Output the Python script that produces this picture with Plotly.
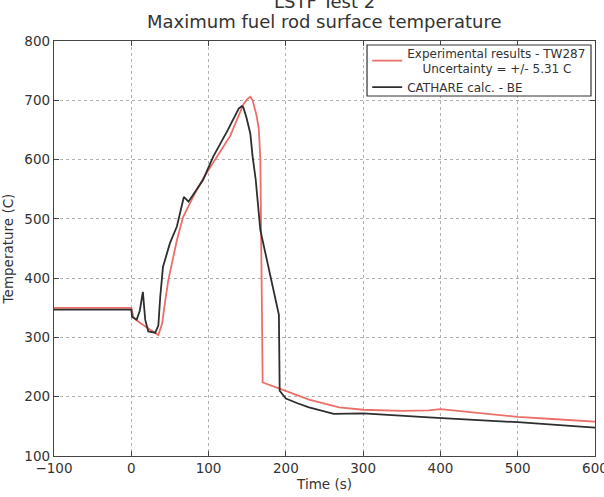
import plotly.graph_objects as go

# Experimental results (red)
exp_time = [-100, 0, 3, 12, 35, 40, 44, 48, 59, 67, 80, 93, 110, 128, 145, 150, 154,
            157, 162, 165, 167, 169, 170, 191, 230, 269, 300, 350, 385, 400, 450, 500, 550, 600]
exp_temp = [350, 350, 333, 324, 304, 324, 363, 397, 464, 503, 537, 568, 603, 640, 693, 702, 706,
            700, 675, 652, 600, 400, 224, 214, 195, 182, 178, 176, 177, 179, 172, 166, 162, 158]

# CATHARE calculation (black)
cat_time = [-100, 0, 1, 7, 11, 15, 18, 22, 31, 35, 37.5, 41, 50, 59, 68, 74, 93, 106, 125,
            139, 143, 145, 149, 154, 157, 161, 167, 178, 191, 192, 200, 215, 230, 262, 300,
            385, 400, 500, 600]
cat_temp = [347, 347, 335, 330, 345, 377, 330, 310, 308, 320, 369, 419, 459, 487, 537, 529, 566,
            605, 650, 686, 690, 688, 671, 644, 605, 566, 481, 414, 338, 210, 197, 189, 182, 171,
            172, 165, 164, 157, 148]

x_ticks = [-100, 0, 100, 200, 300, 400, 500, 600]
y_ticks = [100, 200, 300, 400, 500, 600, 700, 800]

exp_name = "Experimental results - TW287<br>\u00a0\u00a0\u00a0\u00a0Uncertainty = +/- 5.31 C"
cat_name = "CATHARE calc. - BE"

FONT = "DejaVu Sans"
TXT = "#333333"

fig = go.Figure()
fig.add_trace(go.Scatter(x=exp_time, y=exp_temp, mode="lines", name=exp_name,
                         line=dict(color="#eb6f68", width=1.8)))
fig.add_trace(go.Scatter(x=cat_time, y=cat_temp, mode="lines", name=cat_name,
                         line=dict(color="#2e2e2e", width=1.8)))

axis_common = dict(showline=True, linecolor="#444444", linewidth=1.3, mirror="ticks",
                   ticks="inside", ticklen=5, tickcolor="#444444",
                   showgrid=True, gridcolor="#b0b0b0", griddash="dot", gridwidth=1,
                   zeroline=False, tickfont=dict(family=FONT, size=13.5, color=TXT),
                   automargin=False, ticklabeloverflow="allow")

fig.update_xaxes(range=[-100, 600], tickvals=x_ticks,
                 title=dict(text="Time (s)", font=dict(family=FONT, size=13.5, color=TXT), standoff=3),
                 **axis_common)
fig.update_yaxes(range=[100, 800], tickvals=y_ticks,
                 title=dict(text="Temperature (C)", font=dict(family=FONT, size=13.5, color=TXT), standoff=8),
                 **axis_common)

fig.update_layout(
    width=604, height=497,
    margin=dict(l=54, r=9, t=41, b=41),
    paper_bgcolor="white", plot_bgcolor="white",
    font=dict(family=FONT, color=TXT),
    showlegend=True,
    legend=dict(x=0.993, y=1.006, xanchor="right", yanchor="top",
                bgcolor="rgba(0,0,0,0)", borderwidth=0,
                font=dict(family=FONT, size=12, color=TXT), tracegroupgap=0),
    shapes=[
        dict(type="rect", xref="paper", yref="paper", x0=0.5786, x1=0.9926,
             y0=0.8675, y1=0.9904, line=dict(color="#333333", width=1.2),
             fillcolor="white", layer="above"),
    ],
    annotations=[
        dict(text="LSTF Test 2", xref="paper", yref="paper", x=0.5, y=1.094,
             xanchor="center", yanchor="middle", showarrow=False,
             font=dict(family=FONT, size=18, color=TXT)),
        dict(text="Maximum fuel rod surface temperature", xref="paper", yref="paper",
             x=0.5, y=1.0458, xanchor="center", yanchor="middle", showarrow=False,
             font=dict(family=FONT, size=18, color=TXT)),
    ],
)

fig.write_html("out.html")
